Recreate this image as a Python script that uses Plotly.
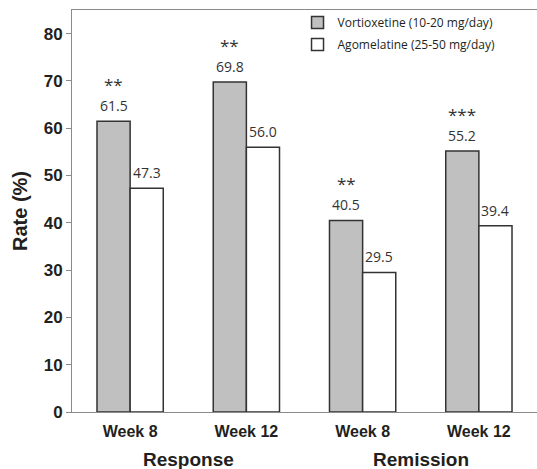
import plotly.graph_objects as go

categories = ["Week 8", "Week 12", "Week 8", "Week 12"]
groups = ["Response", "Remission"]
vortioxetine = [61.5, 69.8, 40.5, 55.2]
agomelatine = [47.3, 56.0, 29.5, 39.4]
significance = ["**", "**", "**", "***"]
series_names = ["Vortioxetine (10-20 mg/day)", "Agomelatine (25-50 mg/day)"]
y_ticks = [0, 10, 20, 30, 40, 50, 60, 70, 80]

x = list(range(len(categories)))
bar_w = 0.285
dark = "#231f20"
axis_gray = "#8a8a8a"

fig = go.Figure()
fig.add_trace(go.Bar(x=x, y=vortioxetine, name=series_names[0], width=bar_w, offset=-bar_w,
                     legendgroup="a",
                     marker=dict(color="#c0c0c0", line=dict(color="#333333", width=1.5))))
fig.add_trace(go.Bar(x=x, y=agomelatine, name=series_names[1], width=bar_w, offset=0,
                     legendgroup="b",
                     marker=dict(color="#ffffff", line=dict(color="#333333", width=1.5))))

annots = []
val_font = dict(family="Open Sans, Noto Sans, sans-serif", size=14, color="#333333")
for i in x:
    annots.append(dict(x=i - bar_w / 2, y=vortioxetine[i], text=f"{vortioxetine[i]:.1f}", showarrow=False,
                       xref="x", yref="y", yanchor="bottom", yshift=4, font=val_font))
    annots.append(dict(x=i + bar_w / 2, y=agomelatine[i], text=f"{agomelatine[i]:.1f}", showarrow=False,
                       xref="x", yref="y", yanchor="bottom", yshift=4, font=val_font))
    annots.append(dict(x=i - bar_w / 2, y=vortioxetine[i], text=significance[i], showarrow=False,
                       xref="x", yref="y", yanchor="bottom", yshift=23,
                       font=dict(family="Open Sans, sans-serif", size=17, color="#333333")))
for gi, g in enumerate(groups):
    annots.append(dict(x=gi * 2 + 0.5, y=0, xref="x", yref="paper", text=f"<b>{g}</b>", showarrow=False,
                       yanchor="top", yshift=-35,
                       font=dict(family="Liberation Sans, Arial, sans-serif", size=19, color=dark)))

fig.update_layout(
    width=537, height=469,
    margin=dict(l=72, r=0, t=10, b=57),
    plot_bgcolor="white", paper_bgcolor="white",
    barmode="overlay",
    showlegend=True,
    legend=dict(x=0.485, y=1.005, xanchor="left", yanchor="top", bgcolor="rgba(0,0,0,0)",
                font=dict(family="Open Sans, Noto Sans, sans-serif", size=12, color=dark),
                itemwidth=30, tracegroupgap=3),
    annotations=annots,
    xaxis=dict(range=[-0.5, 3.5], tickvals=x, ticktext=[f"<b>{c}</b>" for c in categories],
               tickfont=dict(family="Liberation Sans, Arial, sans-serif", size=16, color=dark),
               showline=True, linecolor=axis_gray, linewidth=1, mirror=True, ticks="", showgrid=False,
               zeroline=False, ticklabelstandoff=5, automargin=False),
    yaxis=dict(range=[0, 85], tickvals=y_ticks, ticktext=[f"<b>{t}</b>" for t in y_ticks],
               tickfont=dict(family="Liberation Sans, Arial, sans-serif", size=17, color=dark),
               showline=True, linecolor=axis_gray, linewidth=1, ticks="outside", ticklen=5,
               tickcolor=axis_gray, showgrid=False, zeroline=False, automargin=False,
               title=dict(text="<b>Rate (%)</b>", font=dict(family="Liberation Sans, Arial, sans-serif", size=20, color=dark),
                          standoff=10)),
)

fig.write_html("out.html", config={"displayModeBar": False},
               post_script="document.body.style.margin='0';")
